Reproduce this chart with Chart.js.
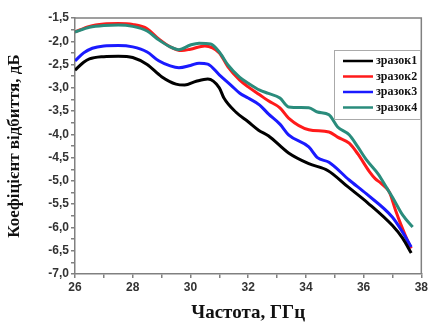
<!DOCTYPE html>
<html>
<head>
<meta charset="utf-8">
<script src="https://cdn.jsdelivr.net/npm/chart.js@4.4.1/dist/chart.umd.min.js"></script>
<style>
  html, body { margin: 0; padding: 0; background: #fff; }
  #wrap { width: 430px; height: 327px; }
</style>
</head>
<body>
<div id="wrap"><canvas id="reflChart"></canvas></div>
<script>
// Reflection coefficient vs frequency, 4 samples
const seriesNames = ["зразок1", "зразок2", "зразок3", "зразок4"];
const seriesColors = ["#000000", "#ff1a1a", "#1a1aff", "#2a8c7c"];
const drawOrder = [0, 3, 1, 2]; // teal above red, black on top

const freq1 = [26.0, 26.3, 26.5, 27.0, 27.5, 28.0, 28.5, 29.0, 29.5, 29.8, 30.2, 30.6, 31.0, 31.16, 31.57, 32.0, 32.36, 32.7, 33.4, 34.1, 34.77, 35.46, 36.14, 37.0, 37.35, 37.65];
const refl1 = [-2.62, -2.45, -2.38, -2.33, -2.32, -2.35, -2.50, -2.76, -2.92, -2.94, -2.86, -2.81, -3.00, -3.22, -3.52, -3.73, -3.91, -4.03, -4.40, -4.63, -4.78, -5.13, -5.47, -5.96, -6.23, -6.55];

const freq2 = [26.0, 26.5, 27.0, 27.5, 28.0, 28.5, 28.9, 29.3, 29.7, 30.0, 30.5, 31.0, 31.3, 31.7, 32.0, 32.4, 32.7, 33.1, 33.4, 34.1, 34.8, 35.1, 35.5, 35.8, 36.2, 36.4, 36.6, 36.9, 37.1, 37.3, 37.5, 37.65];
const refl2 = [-1.80, -1.68, -1.63, -1.62, -1.64, -1.73, -1.95, -2.12, -2.20, -2.17, -2.10, -2.25, -2.55, -2.83, -2.98, -3.15, -3.28, -3.43, -3.65, -3.90, -3.95, -4.06, -4.19, -4.42, -4.80, -4.95, -5.05, -5.25, -5.62, -5.95, -6.25, -6.45];

const freq3 = [26.0, 26.3, 26.6, 27.0, 27.5, 28.0, 28.5, 28.9, 29.3, 29.6, 30.0, 30.3, 30.6, 31.0, 31.4, 31.7, 32.0, 32.4, 32.7, 33.1, 33.4, 34.1, 34.4, 34.8, 35.5, 36.1, 37.0, 37.35, 37.65];
const refl3 = [-2.42, -2.25, -2.15, -2.10, -2.09, -2.12, -2.23, -2.42, -2.53, -2.57, -2.52, -2.47, -2.49, -2.72, -2.94, -3.11, -3.22, -3.37, -3.56, -3.78, -4.01, -4.27, -4.50, -4.60, -4.98, -5.28, -5.78, -6.10, -6.42];

const freq4 = [26.0, 26.5, 27.0, 27.5, 28.0, 28.5, 28.9, 29.3, 29.6, 30.0, 30.3, 30.7, 31.0, 31.3, 31.7, 32.0, 32.4, 32.7, 33.1, 33.4, 34.1, 34.4, 34.8, 35.1, 35.5, 35.8, 36.1, 36.5, 36.8, 37.0, 37.35, 37.7];
const refl4 = [-1.80, -1.70, -1.66, -1.65, -1.68, -1.78, -1.97, -2.12, -2.18, -2.08, -2.04, -2.06, -2.23, -2.51, -2.77, -2.90, -3.05, -3.12, -3.22, -3.41, -3.43, -3.52, -3.58, -3.84, -4.01, -4.27, -4.55, -4.85, -5.15, -5.35, -5.73, -5.99];

const xLabels = [26, 28, 30, 32, 34, 36, 38];
const yLabels = [-1.5, -2.0, -2.5, -3.0, -3.5, -4.0, -4.5, -5.0, -5.5, -6.0, -6.5, -7.0];

const freqs = [freq1, freq2, freq3, freq4];
const refls = [refl1, refl2, refl3, refl4];

function toPoints(xs, ys) {
  return xs.map((x, i) => ({ x: x, y: ys[i] }));
}

// box on top/right + legend inside plot
const framePlugin = {
  id: "frame",
  afterDraw(chart) {
    const c = chart.ctx;
    const a = chart.chartArea;
    c.save();
    c.strokeStyle = "#808080";
    c.lineWidth = 1.5;
    c.beginPath();
    c.moveTo(a.left, a.top);
    c.lineTo(a.right, a.top);
    c.lineTo(a.right, a.bottom);
    c.stroke();

    // legend
    const lx = 334, ly = 50, lw = 86, lh = 69;
    c.fillStyle = "#fff";
    c.fillRect(lx, ly, lw, lh);
    c.strokeStyle = "#aaaaaa";
    c.lineWidth = 1;
    c.strokeRect(lx + 0.5, ly + 0.5, lw, lh);
    c.font = "bold 12px 'Liberation Serif', serif";
    c.textBaseline = "middle";
    chart.data.datasets.forEach((ds, i) => {
      const y = ly + 11 + i * 15.5;
      c.strokeStyle = ds.borderColor;
      c.lineWidth = 2.5;
      c.beginPath();
      c.moveTo(lx + 9, y);
      c.lineTo(lx + 39, y);
      c.stroke();
      c.fillStyle = "#111";
      c.fillText(ds.label, lx + 42, y);
    });
    c.restore();
  }
};

const ctx = document.getElementById("reflChart");

new Chart(ctx, {
  type: "line",
  data: {
    datasets: seriesNames.map((name, i) => ({
      label: name,
      data: toPoints(freqs[i], refls[i]),
      borderColor: seriesColors[i],
      backgroundColor: seriesColors[i],
      borderWidth: 3,
      pointRadius: 0,
      tension: 0.4,
      cubicInterpolationMode: "monotone",
      order: drawOrder[i],
      fill: false
    }))
  },
  options: {
    responsive: true,
    maintainAspectRatio: false,
    animation: false,
    layout: { padding: { top: 18, right: 6, left: 0, bottom: 0 } },
    plugins: {
      legend: { display: false },
      tooltip: { enabled: false }
    },
    scales: {
      x: {
        type: "linear",
        min: 26,
        max: 38,
        afterFit: (scale) => { scale.height = 53; },
        afterBuildTicks: (scale) => {
          const t = [];
          for (let v = 26; v <= 38; v += 1) t.push({ value: v });
          scale.ticks = t;
        },
        ticks: {
          autoSkip: false,
          maxRotation: 0,
          padding: 2,
          color: "#333",
          font: { family: "Arial, 'Liberation Sans', sans-serif", size: 12, weight: "bold" },
          callback: (v) => xLabels.includes(v) ? String(v) : ""
        },
        grid: { drawOnChartArea: false, drawTicks: true, tickLength: 4, color: "#808080", lineWidth: 1.5 },
        border: { color: "#808080", width: 1.5 },
        title: {
          display: true,
          text: "Частота, ГГц",
          color: "#111",
          font: { family: "'Liberation Serif', serif", size: 19, weight: "bold" },
          padding: { top: 0, bottom: 3 }
        }
      },
      y: {
        min: -7,
        max: -1.5,
        afterFit: (scale) => { scale.width = 75; },
        afterBuildTicks: (scale) => {
          const t = [];
          for (let v = -7; v <= -1.5 + 1e-9; v += 0.25) t.push({ value: Math.round(v * 100) / 100 });
          scale.ticks = t;
        },
        ticks: {
          autoSkip: false,
          padding: 2,
          color: "#333",
          font: { family: "Arial, 'Liberation Sans', sans-serif", size: 12, weight: "bold" },
          callback: (v) => yLabels.includes(v) ? v.toFixed(1).replace(".", ",") : ""
        },
        grid: { drawOnChartArea: false, drawTicks: true, tickLength: 4, color: "#808080", lineWidth: 1.5 },
        border: { color: "#808080", width: 1.5 },
        title: {
          display: true,
          text: "Коефіцієнт відбиття, дБ",
          color: "#111",
          font: { family: "'Liberation Serif', serif", size: 17, weight: "bold" },
          padding: { top: 4, bottom: 0 }
        }
      }
    }
  },
  plugins: [framePlugin]
});
</script>
</body>
</html>
